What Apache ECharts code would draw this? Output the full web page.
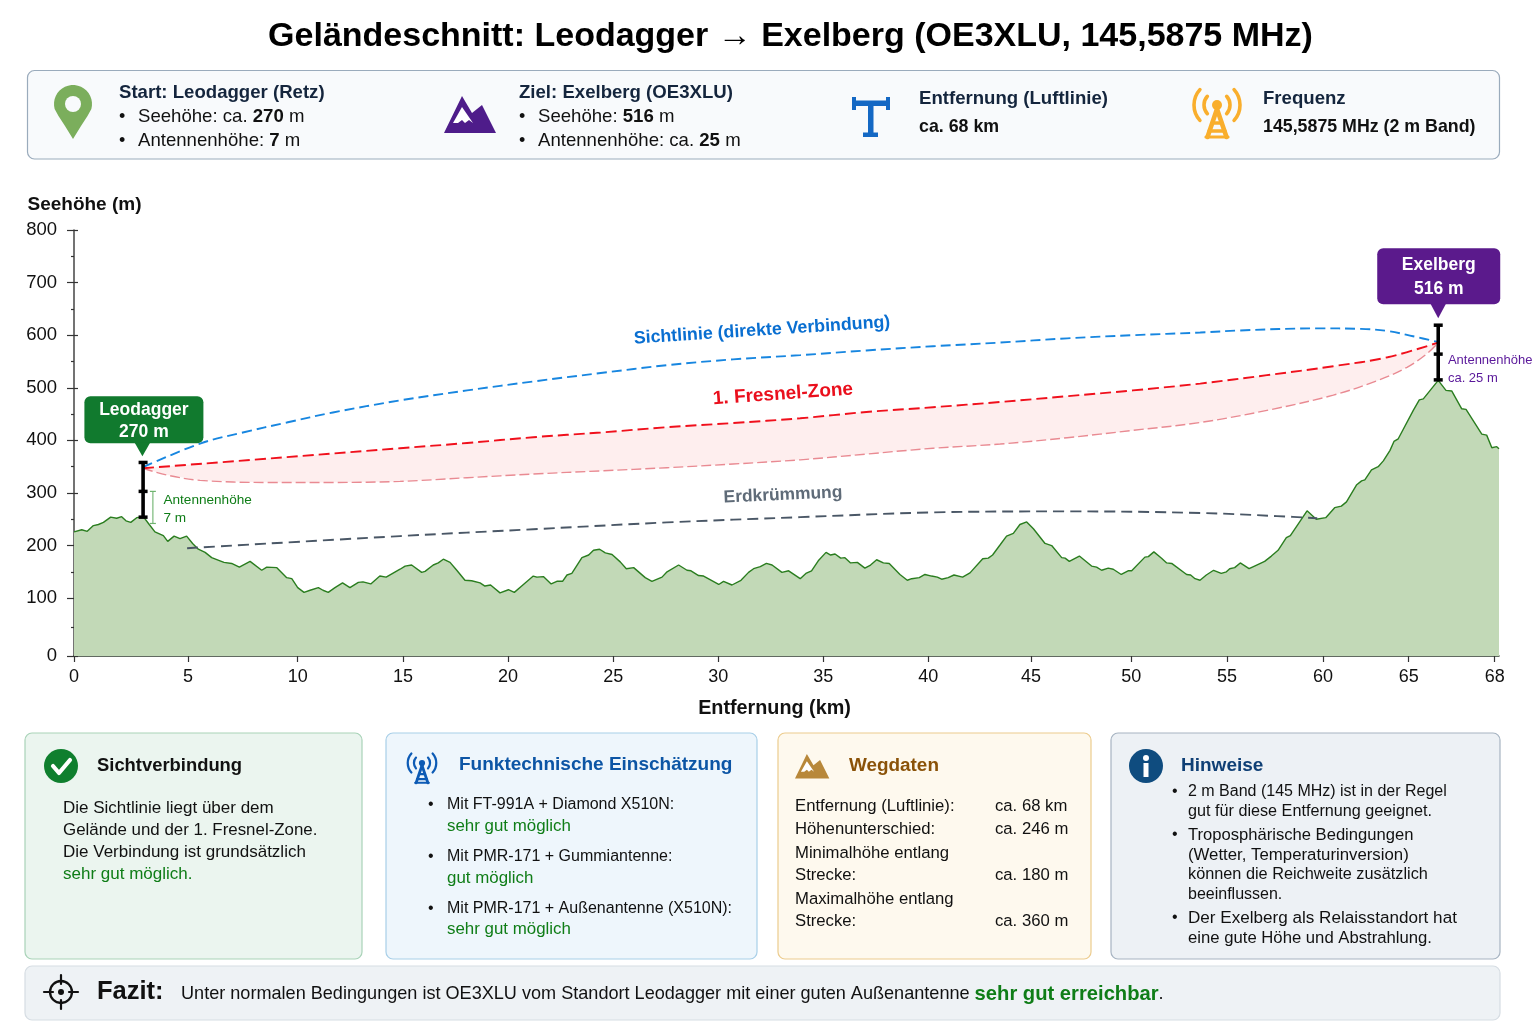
<!DOCTYPE html>
<html lang="de">
<head>
<meta charset="utf-8">
<title>Geländeschnitt</title>
<style>html,body{margin:0;padding:0;background:#fff}#c{width:1536px;height:1024px}</style>
<script src="https://cdn.jsdelivr.net/npm/echarts@6/dist/echarts.min.js"></script>
</head>
<body>
<div id="c"></div>
<script>
// ---------- data (km / metres) ----------
const terrainKm = [0,.34,.58,.85,1.07,1.29,1.61,1.87,2.09,2.28,2.49,2.75,3.04,3.3,3.55,3.92,4.11,4.39,4.65,4.94,5.21,5.47,5.78,6.08,6.46,6.64,6.99,7.34,7.83,8.36,8.59,9.05,9.5,9.73,10,10.3,10.59,10.98,11.2,11.45,11.77,12.13,12.48,12.88,13.1,13.47,13.9,14.2,14.86,15.1,15.41,15.89,16.05,16.44,16.68,16.92,17.24,17.56,17.95,18.27,18.67,18.9,19.17,19.62,20.02,20.3,20.65,21.2,21.37,21.68,22.05,22.32,22.59,22.8,23.03,23.51,23.83,24.06,24.35,24.62,24.94,25.33,25.62,25.97,26.52,26.84,27.32,27.56,28.11,28.51,28.7,29.06,29.3,30.02,30.25,30.65,31.08,31.44,31.68,32,32.29,32.56,33.03,33.35,33.9,34.17,34.44,34.76,35.13,35.35,35.56,35.83,36.03,36.3,36.62,36.98,37.25,37.54,37.86,38.14,38.65,39,39.21,39.57,39.84,40.16,40.44,40.65,40.97,41.25,41.67,42.03,42.65,42.92,43.13,43.49,43.81,44.14,44.46,44.79,45.12,45.7,46.03,46.53,46.7,46.91,47.41,48.02,48.27,48.52,48.85,49.1,49.5,49.84,50.02,50.71,50.89,51.18,51.58,51.85,52.11,52.89,53.1,53.33,53.59,53.92,54.3,54.7,54.97,55.14,55.4,55.69,56.15,56.49,56.96,57.31,57.66,58.09,58.3,59.17,59.65,60.16,60.68,61.07,61.37,61.95,62.25,62.44,62.83,63.22,63.52,63.91,64.14,64.39,65.16,65.37,65.51,66.03,66.3,66.5,66.85,67,67.55,67.72,67.9,68.07,68.15];
const terrainM = [226,230,227,238,240,244,254,252,255,247,244,253,255,240,226,219,208,218,213,218,204,193,187,177,171,168,166,159,170,153,159,158,139,137,120,111,115,120,115,111,120,129,120,130,131,127,142,140,155,161,163,149,151,163,167,174,168,153,134,133,129,123,125,110,116,111,123,142,140,141,127,132,132,144,147,177,182,191,193,186,183,169,156,158,139,132,140,150,163,153,152,143,142,126,132,125,134,149,156,160,166,163,149,152,137,147,152,171,187,182,184,176,177,167,168,157,163,173,167,166,145,134,137,139,145,142,140,136,139,144,140,148,175,176,182,201,218,223,240,245,232,204,200,177,176,170,180,161,159,153,157,155,145,152,152,178,179,188,176,167,166,145,144,137,134,144,153,147,150,156,158,167,156,162,170,180,191,215,219,266,250,253,272,275,283,315,323,325,344,350,361,381,398,403,457,477,479,514,495,494,460,459,412,410,386,388,384];

const sightKm = [3.03,5.55,7.5,9.5,11.67,14.86,18.05,21.2,24.4,27.55,30.7,33.9,37.05,40.23,43.5,46.8,50.08,53.6,55.68,59.7,62.2,63.77,65.15,66.03];
const sightM  = [349,394,415,434,453,476,495,512,528,543,554,562,571,579,586,594,600,605,609,613,612,608,598,587];

const fresnelTopKm = [3.03,10.1,14.86,18.05,21.2,24.4,27.55,30.7,33.9,37.05,40.23,43.5,46.8,50.08,53.6,57.08,60.6,63.77,66.03];
const fresnelTopM  = [347,370,385,395,406,415,425,433,442,454,463,473,484,495,508,524,541,558,586];

const fresnelLowKm = [3.03,4.08,5.55,8.6,11.67,14.86,18.05,21.2,24.4,27.55,30.7,33.9,37.05,40.23,43.5,46.8,50.08,53.6,57.08,60.6,63.2,64.9,65.64,66.03];
const fresnelLowM  = [347,334,324,320,320,322,329,336,342,348,355,363,374,385,393,405,419,434,457,486,514,539,565,586];

const curveKm = [4.96,14.86,21.2,27.55,33.9,40.23,46.8,53.6,57.6,59.7];
const curveM  = [195,218,231,244,254,263,265,262,256,252];

const mastLeoKm = [3.03,3.03,3.03];
const mastLeoM  = [254,303,358];
const mastExelKm = [66.03,66.03,66.03];
const mastExelM  = [515,564,619];
const leoBracketKm = [3.46,3.46];
const leoBracketM  = [242,303];

const xTickKm = [0,5,10,15,20,25,30,35,40,45,50,55,60,65,68];
const yTickM  = [0,100,200,300,400,500,600,700,800];
const yMinorM = [50,150,250,350,450,550,650,750];

// The printed axes are not evenly spaced: each km/m knot has its own place on the drawn scale.
const xScaleKm  = [0,5,10,15,20,25,30,35,40,45,50,55,60,65,68,68.15];
const xScaleAt  = [0,114,223.7,329,434,539.3,644.3,749.3,854.3,957,1057.3,1153,1249,1334.7,1420.7,1425];
const yScaleM   = [0,100,800];
const yScaleAt  = [0,110,810];

function lerp(v,from,to){
  for(let i=1;i<from.length;i++){
    if(v<=from[i]||i===from.length-1){
      return to[i-1]+(v-from[i-1])*(to[i]-to[i-1])/(from[i]-from[i-1]);
    }
  }
}
const toX=km=>lerp(km,xScaleKm,xScaleAt);
const toY=m=>lerp(m,yScaleM,yScaleAt);
const fromX=v=>lerp(v,xScaleAt,xScaleKm);
const fromY=v=>lerp(v,yScaleAt,yScaleM);
const pts=(xs,ys)=>xs.map((k,i)=>[toX(k),toY(ys[i])]);

const FONT='"Liberation Sans", Arial, sans-serif';
const GREEN='#0f7d17', INK='#111111';

// ---------- annotation text helpers ----------
function textSeries(name,km,m,text,color,size,rotate,align){
  return {name,type:'scatter',symbolSize:1,itemStyle:{color:'rgba(0,0,0,0)',opacity:1},silent:true,z:8,
    data:[[toX(km),toY(m)]],
    label:{show:true,formatter:text,position:align==='left'?'right':'inside',distance:0,opacity:1,
      color,fontSize:size,fontWeight:rotate===0?'normal':'bold',fontFamily:FONT,rotate}};
}
function callout(name,km,m,lines,fill,box){
  return {name,type:'custom',z:9,silent:true,clip:false,data:[[toX(km),toY(m)]],
    renderItem(p,api){
      const c=api.coord([api.value(0),api.value(1)]);
      return {type:'group',x:c[0],y:c[1],children:[
        {type:'rect',shape:{x:box.l,y:box.t,width:box.r-box.l,height:box.b-box.t,r:6},style:{fill}},
        {type:'polygon',shape:{points:[[-8,box.b-1],[8,box.b-1],[0,0]]},style:{fill}},
        {type:'text',style:{x:(box.l+box.r)/2,y:box.t+box.l1,text:lines[0],fill:'#fff',font:'bold 17.5px '+FONT,align:'center',verticalAlign:'middle'}},
        {type:'text',style:{x:(box.l+box.r)/2,y:box.t+box.l2,text:lines[1],fill:'#fff',font:'bold 17.5px '+FONT,align:'center',verticalAlign:'middle'}}
      ]};
    }};
}
function dashed(name,xs,ys,color,width,dash,z){
  return {name,type:'line',data:pts(xs,ys),smooth:0.35,symbol:'none',silent:true,z,
    lineStyle:{color,width,type:dash}};
}
function mast(name,xs,ys){
  return {name,type:'line',data:pts(xs,ys),symbol:'rect',symbolSize:[9,3.5],silent:true,z:7,
    itemStyle:{color:'#000'},lineStyle:{color:'#000',width:3.6}};
}

// ---------- page furniture (panels, icons, text) ----------
const T=(x,y,text,o={})=>({type:'text',z:5,style:Object.assign({x,y:y+2,text,fill:o.color||INK,
  font:(o.bold?'bold ':'')+(o.size||17)+'px '+FONT,align:o.align||'left',verticalAlign:'middle'},
  o.rich?{rich:o.rich}:{})});
const panel=(x0,y0,x1,y1,fill,stroke)=>({type:'rect',z:1,shape:{x:x0,y:y0,width:x1-x0,height:y1-y0,r:7},style:{fill,stroke,lineWidth:1.2}});
const R=(x,y,w,h,fill)=>({type:'rect',z:4,shape:{x,y,width:w,height:h},style:{fill}});
const poly=(points,fill)=>({type:'polygon',z:4,shape:{points},style:{fill}});
const line=(x1,y1,x2,y2,stroke,lw)=>({type:'line',z:4,shape:{x1,y1,x2,y2},style:{stroke,lineWidth:lw,lineCap:'round'}});
const circ=(cx,cy,r,fill,stroke,lw)=>({type:'circle',z:4,shape:{cx,cy,r},style:stroke?{fill:'none',stroke,lineWidth:lw}:{fill}});
const d2r=Math.PI/180;
function antenna(cx,cy,s,col){
  const arc=(r,a,b)=>({type:'arc',z:4,shape:{cx,cy,r:r*s,startAngle:a*d2r,endAngle:b*d2r},style:{stroke:col,lineWidth:3.6*s,fill:'none',lineCap:'round'}});
  return [arc(13,-42,42),arc(23,-42,42),arc(13,138,222),arc(23,138,222),
    circ(cx,cy,5*s,col),
    line(cx,cy+4*s,cx-9.5*s,cy+32*s,col,4.6*s),line(cx,cy+4*s,cx+9.5*s,cy+32*s,col,4.6*s),
    line(cx-5*s,cy+18*s,cx+5*s,cy+18*s,col,3.4*s),line(cx-8*s,cy+26*s,cx+8*s,cy+26*s,col,3.4*s),
    line(cx-11*s,cy+32*s,cx+11*s,cy+32*s,col,3.2*s)];
}
function mountain(x,y,s,col){
  const P=(a,b)=>[x+a*s,y+b*s];
  return [poly([P(0,37),P(18,0),P(28,17),P(38,9),P(52,37)],col),
    poly([P(9,27),P(18,11),P(29,27),P(25,24),P(21,27),P(18,24),P(14,27)],'#fff')];
}
function pinOutline(cx,cy,r,tipY){
  const out=[[cx,tipY],[cx-8,tipY-13],[cx-14.5,tipY-23]];
  for(let a=165;a<=375;a+=10){out.push([cx+r*Math.cos(a*d2r),cy+r*Math.sin(a*d2r)]);}
  out.push([cx+14.5,tipY-23],[cx+8,tipY-13]);
  return out;
}
const rb={b:{font:'bold 18.6px '+FONT,fill:INK}};

const furniture=[
  panel(27.5,70.5,1499.5,159,'#f8fafc','#9aabbc'),
  poly(pinOutline(73,104,19,139),'#7bae5c'),
  circ(73,104,8,'#f8fafc'),
  T(119,91,'Start: Leodagger (Retz)',{bold:true,size:18.6,color:'#14253d'}),
  T(119,115,'•',{size:18}),T(138,115,'Seehöhe: ca. {b|270} m',{size:18.6,rich:rb}),
  T(119,139,'•',{size:18}),T(138,139,'Antennenhöhe: {b|7} m',{size:18.6,rich:rb}),
  ...mountain(444,96,1,'#4e1c8a'),
  T(519,91,'Ziel: Exelberg (OE3XLU)',{bold:true,size:18.6,color:'#14253d'}),
  T(519,115,'•',{size:18}),T(538,115,'Seehöhe: {b|516} m',{size:18.6,rich:rb}),
  T(519,139,'•',{size:18}),T(538,139,'Antennenhöhe: ca. {b|25} m',{size:18.6,rich:rb}),
  R(852,97,4,13,'#1468c4'),R(886,97,4,13,'#1468c4'),R(852,100.5,38,5.5,'#1468c4'),
  R(868,105,5.5,29,'#1468c4'),R(863,132.5,15,4.5,'#1468c4'),
  T(919,97,'Entfernung (Luftlinie)',{bold:true,size:18.6,color:'#14253d'}),
  T(919,125,'ca. 68 km',{bold:true,size:17.8}),
  ...antenna(1217,105,1,'#f9ae2d'),
  T(1263,97,'Frequenz',{bold:true,size:18.6,color:'#14253d'}),
  T(1263,125,'145,5875 MHz (2 m Band)',{bold:true,size:17.8}),

  panel(25,733,362,959,'#ebf5ef','#a9d3b8'),
  circ(61,766,17,'#0f7f2e'),
  {type:'polyline',z:5,shape:{points:[[53,766],[59,773],[70,760]]},style:{stroke:'#fff',lineWidth:4.2,fill:'none',lineCap:'round',lineJoin:'round'}},
  T(97,764,'Sichtverbindung',{bold:true,size:18.4}),
  T(63,806,'Die Sichtlinie liegt über dem'),T(63,828,'Gelände und der 1. Fresnel-Zone.',{size:16.9}),
  T(63,850,'Die Verbindung ist grundsätzlich'),T(63,872,'sehr gut möglich.',{color:GREEN}),

  panel(386,733,757,959,'#eef6fc','#a8cfe8'),
  ...antenna(422,763,.62,'#0d5bb5'),
  T(459,763,'Funktechnische Einschätzung',{bold:true,size:19,color:'#0c55a5'}),
  T(428,803,'•',{size:16}),T(447,803,'Mit FT-991A + Diamond X510N:',{size:16}),T(447,824,'sehr gut möglich',{size:16.9,color:GREEN}),
  T(428,855,'•',{size:16}),T(447,855,'Mit PMR-171 + Gummiantenne:',{size:16}),T(447,876,'gut möglich',{size:16.9,color:GREEN}),
  T(428,907,'•',{size:16}),T(447,907,'Mit PMR-171 + Außenantenne (X510N):',{size:16}),T(447,927,'sehr gut möglich',{size:16.9,color:GREEN}),

  panel(778,733,1091,959,'#fef9ee','#eccc8e'),
  ...mountain(795,754,.66,'#b8883a'),
  T(849,764,'Wegdaten',{bold:true,size:18.9,color:'#8a5208'}),
  T(795,804,'Entfernung (Luftlinie):',{size:16.7}),T(995,804,'ca. 68 km',{size:16.7}),
  T(795,827,'Höhenunterschied:',{size:16.7}),T(995,827,'ca. 246 m',{size:16.7}),
  T(795,851,'Minimalhöhe entlang',{size:16.7}),T(795,873,'Strecke:',{size:16.7}),T(995,873,'ca. 180 m',{size:16.7}),
  T(795,897,'Maximalhöhe entlang',{size:16.7}),T(795,919,'Strecke:',{size:16.7}),T(995,919,'ca. 360 m',{size:16.7}),

  panel(1111,733,1500,959,'#edf1f5','#a7b4c2'),
  circ(1146,766,17,'#0f4c7f'),circ(1146,758,3,'#fff'),R(1143.5,763,5,14,'#fff'),
  T(1181,764,'Hinweise',{bold:true,size:19,color:'#0f3f75'}),
  T(1172,790,'•',{size:16}),T(1188,790,'2 m Band (145 MHz) ist in der Regel',{size:16}),T(1188,810,'gut für diese Entfernung geeignet.',{size:16.2}),
  T(1172,833,'•',{size:16}),T(1188,833,'Troposphärische Bedingungen',{size:16.6}),T(1188,853,'(Wetter, Temperaturinversion)',{size:16.8}),
  T(1188,873,'können die Reichweite zusätzlich',{size:16.3}),T(1188,893,'beeinflussen.',{size:16}),
  T(1172,916,'•',{size:16}),T(1188,916,'Der Exelberg als Relaisstandort hat',{size:17.1}),T(1188,936,'eine gute Höhe und Abstrahlung.',{size:16.7}),

  panel(25,966,1500,1020,'#eef2f5','#d6dde3'),
  circ(61,992,11,null,'#111',2.3),circ(61,992,3,'#111'),
  line(61,975,61,984,'#111',2.2),line(61,1000,61,1009,'#111',2.2),line(44,992,53,992,'#111',2.2),line(69,992,78,992,'#111',2.2),
  T(97,990,'Fazit:',{bold:true,size:25.5}),
  T(181,992,'Unter normalen Bedingungen ist OE3XLU vom Standort Leodagger mit einer guten Außenantenne {g|sehr gut erreichbar}.',
    {size:18.1,rich:{g:{font:'bold 20.2px '+FONT,fill:GREEN}}})
];

// ---------- chart ----------
const sideAxis=(values,len,inside)=>({type:'value',min:0,max:810,position:'left',
  axisLine:{show:false},splitLine:{show:false},axisLabel:{show:false},
  axisTick:{show:true,inside,length:len,customValues:values.map(toY),lineStyle:{color:'#333',width:1.2}}});

const option={
  animation:false,
  backgroundColor:'#fff',
  textStyle:{fontFamily:FONT},
  title:{text:'Geländeschnitt: Leodagger → Exelberg (OE3XLU, 145,5875 MHz)',left:785.5,textAlign:'center',top:15,
    textStyle:{fontFamily:FONT,fontSize:34,fontWeight:'bold',color:'#000'}},
  grid:{left:74,top:230,width:1425,height:426},
  xAxis:{type:'value',min:0,max:1425,
    name:'Entfernung (km)',nameLocation:'middle',nameGap:43,
    nameTextStyle:{fontFamily:FONT,fontSize:19.8,fontWeight:'bold',color:INK,padding:[0,24,0,0]},
    axisLine:{lineStyle:{color:'#2e3a2e',width:1.5}},splitLine:{show:false},
    axisTick:{show:true,length:6,customValues:xTickKm.map(toX),lineStyle:{color:'#333',width:1.2}},
    axisLabel:{show:true,customValues:xTickKm.map(toX),margin:12,fontFamily:FONT,fontSize:18,color:INK,
      formatter:v=>String(Math.round(fromX(v)))}},
  yAxis:[{type:'value',min:0,max:810,
    name:'Seehöhe (m)',nameLocation:'end',nameGap:16,
    nameTextStyle:{fontFamily:FONT,fontSize:19,fontWeight:'bold',color:INK,align:'center',padding:[0,0,0,21]},
    axisLine:{show:true,lineStyle:{color:'#444',width:1.5}},splitLine:{show:false},
    axisTick:{show:true,length:7,customValues:yTickM.map(toY),lineStyle:{color:'#333',width:1.2}},
    axisLabel:{show:true,customValues:yTickM.map(toY),margin:17,fontFamily:FONT,fontSize:18.5,color:INK,
      formatter:v=>String(Math.round(fromY(v)))}},
    sideAxis(yTickM,4,true),
    sideAxis(yMinorM,3,false)],
  series:[
    {name:'Gelände',type:'line',data:pts(terrainKm,terrainM),symbol:'none',silent:true,z:2,
      lineStyle:{color:'#2a7d1f',width:1.4},areaStyle:{color:'#c2d9b7',opacity:1}},
    {name:'Fresnel-Fläche',type:'custom',silent:true,z:3,data:[[0,0]],
      renderItem(p,api){
        const top=pts(fresnelTopKm,fresnelTopM).map(q=>api.coord(q));
        const low=pts(fresnelLowKm,fresnelLowM).map(q=>api.coord(q)).reverse();
        return {type:'polygon',shape:{points:top.concat(low)},style:{fill:'#feeeee'}};
      }},
    dashed('Sichtlinie',sightKm,sightM,'#1786e0',1.9,[10,5],6),
    dashed('1. Fresnel-Zone',fresnelTopKm,fresnelTopM,'#f0101c',1.9,[11,5],6),
    dashed('Fresnel-Zone unten',fresnelLowKm,fresnelLowM,'#e98a92',1.4,[10,4],5),
    dashed('Erdkrümmung',curveKm,curveM,'#4a5766',1.9,[11,6],4),
    mast('Antenne Leodagger',mastLeoKm,mastLeoM),
    mast('Antenne Exelberg',mastExelKm,mastExelM),
    {name:'Antennenhöhe Leodagger',type:'line',data:pts(leoBracketKm,leoBracketM),symbol:'rect',symbolSize:[6,1.2],silent:true,z:6,
      itemStyle:{color:'#6fb36f'},lineStyle:{color:'#6fb36f',width:1.1}},
    textSeries('t1',32.08,609,'Sichtlinie (direkte Verbindung)','#0a6fd1',17.8,3.7),
    textSeries('t2',33.08,488,'1. Fresnel-Zone','#ea0f1c',19,4),
    textSeries('t3',33.08,296,'Erdkrümmung','#5f6b78',17.4,2.5),
    textSeries('t4',3.9,286,'Antennenhöhe','#0f7d17',13.6,0,'left'),
    textSeries('t5',3.9,252,'7 m','#0f7d17',13.6,0,'left'),
    textSeries('t6',66.35,552,'Antennenhöhe','#5a189a',13,0,'left'),
    textSeries('t7',66.35,518,'ca. 25 m','#5a189a',13,0,'left'),
    callout('Leodagger',3.0,370,['Leodagger','270 m'],'#117a2e',{l:-58,r:61,t:-60,b:-13,l1:14,l2:36}),
    callout('Exelberg',66.03,632,['Exelberg','516 m'],'#5b1a8c',{l:-61,r:62,t:-70,b:-14,l1:17,l2:41})
  ],
  graphic:{elements:furniture}
};
echarts.init(document.getElementById('c'),null,{renderer:'canvas'}).setOption(option);
</script>
</body>
</html>
